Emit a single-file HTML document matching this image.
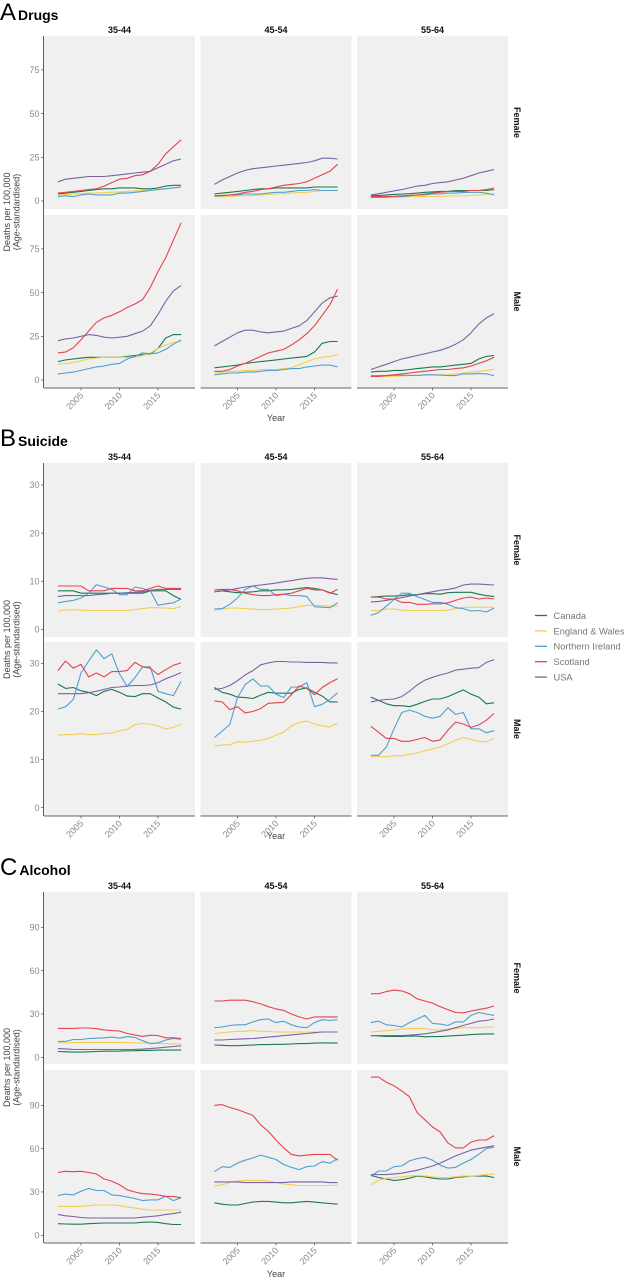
<!DOCTYPE html>
<html><head><meta charset="utf-8">
<style>
html,body{margin:0;padding:0;background:#fff;}
svg{display:block;font-family:"Liberation Sans",sans-serif;}
</style></head>
<body>
<svg id="chart" width="628" height="1280" viewBox="0 0 628 1280" xmlns="http://www.w3.org/2000/svg"></svg>
<script>
const years = [2002,2003,2004,2005,2006,2007,2008,2009,2010,2011,2012,2013,2014,2015,2016,2017,2018];
const countries = ["Canada","England & Wales","Northern Ireland","Scotland","USA"];
const ageGroups = ["35-44","45-54","55-64"];
const sexes = ["Female","Male"];
const xTicks = [2005,2010,2015];
const drugsTicks = [0,25,50,75];
const suicideTicks = [0,10,20,30];
const alcoholTicks = [0,30,60,90];

// Drugs: [sex][age][country]
const drugsFemale = [
 [[4,4.5,5,5.5,6,6.5,7,7,7.5,7.5,7.5,7,7,7.5,8.5,9,9],
  [3.5,3.8,4,4.2,4.5,4.6,4.8,5,5.2,5.5,5.8,6,6.2,6.5,7,7.5,8],
  [2.5,3,2.5,3.5,4,3.5,3.5,3.5,4.5,4.5,5,5.5,6,6.5,7,7.5,8],
  [4.5,5,5.5,6,6.5,7,8.5,10.5,12.5,13,14.5,15,17,21,27,31,35],
  [11,12.5,13,13.5,14,14,14,14.5,15,15.5,16,16.5,17,19,21,23,24]],
 [[4,4.5,5,5.5,6,6.5,7,7,7.5,7.5,7.5,7.5,7.5,8,8,8,8],
  [2.5,2.5,2.7,3,3,3.2,3.5,3.7,4,4.2,4.5,4.8,5,5.5,6,6,6],
  [3,3,3.5,3.5,4,4,4,4.5,5,5,5.5,6,6,6.5,6,6,6],
  [3,3.2,3.5,4,5,5.5,6.5,7,8,9,9.5,10,11,13,15,17,21],
  [9.5,12,14,16,17.5,18.5,19,19.5,20,20.5,21,21.5,22,23,24.5,24.5,24]],
 [[3,3.2,3.5,3.8,4,4.2,4.5,5,5.2,5.5,5.5,6,6,6,6,6,6.5],
  [2,2,2.2,2.2,2.3,2.4,2.5,2.5,2.6,2.7,2.8,3,3,3.2,3.5,3.7,4],
  [2,2,2.2,2.5,2.5,3,3.5,3.5,4,4,4.5,4.5,4.8,5,5,4.5,3.5],
  [2.5,2.5,2.5,2.7,3,3.2,3.5,4,4.5,5,5.5,5.5,5.5,6,6,6.5,7.5],
  [3.5,4.2,5,5.8,6.5,7.5,8.5,9,10,10.5,11,12,13,14.5,16,17,18]]
];
const drugsMale = [
 [[10.5,11.5,12,12.5,13,13,13,13,13,13.5,14,14.5,15,18,24,26,26],
  [9,9.5,10,11,12,12.5,13,13,13,13,13,14,15.5,18,20,21.5,22],
  [3.5,4,4.5,5.5,6.5,7.5,8,9,9.5,12,13.5,15.5,15,15.5,17.5,20.5,23],
  [15.5,16,18.5,23,28,33,35.5,37,39,41.5,43.5,46,53,62,70,80,90],
  [22.5,23.5,24,25,26,25.5,24.5,24,24.5,25,26.5,28,31,37.5,45,51,54]],
 [[7,7.5,8,8.5,9.5,10,10.5,11,11.5,12,12.5,13,13.5,16,21,22,22],
  [4,4.5,5,5,5.5,5.5,6,6,6,6.5,7,8.5,10.5,12,13,13.5,14.5],
  [3,3.5,4,4,4.5,4.5,5,5.5,5.5,6,6.5,6.5,7.5,8,8.5,8.5,7.5],
  [5,5,6,8,9.5,11.5,13.5,15.5,16.5,17.5,20,23,26.5,31,37,43,52],
  [19.5,22,24.5,27,28.5,28.5,27.5,27,27.5,28,29.5,31,34,39,44,47,48]],
 [[4.5,5,5,5.5,5.5,6,6.5,7,7.5,7.5,8,8.5,9,9.5,12,13.5,14],
  [2,2,2,2.2,2.3,2.5,2.7,3,3,3,3,3.5,4,4.5,5,5.5,6],
  [2.5,2.5,2.5,2.7,2.7,2.7,2.5,3,3,2.8,2.5,2.5,3.5,3.5,3.8,3.5,2.5],
  [2,2,2.5,3,3.5,4,4.5,5,5.5,6,6,6.5,7,8,9.5,11,13],
  [6,7.5,9,10.5,12,13,14,15,16,17,18.5,20.5,23,27,32,35.5,38]]
];
const suicideFemale = [
 [[8,8,8,7.5,7.5,7.5,7.5,7.5,7.5,7.5,7.5,7.5,8,8,8,7,6.2],
  [3.8,4,4.1,4,3.9,3.9,3.9,3.9,3.9,3.9,4.1,4.3,4.5,4.5,4.4,4.3,4.7],
  [5.5,5.8,6,6.5,7.5,9.3,8.8,8.3,7.2,7.2,8.8,8.5,8,5,5.3,5.5,6.3],
  [9,9,9,9,8,8,8,8.5,8.5,8.5,8,8,8.5,9,8.5,8.5,8.5],
  [6.8,7,7,7,7,7.2,7.3,7.5,7.5,7.6,7.7,7.8,8.1,8.3,8.3,8.3,8.3]],
 [[7.8,8,7.8,7.6,7.7,7.8,8,8,8.2,8.2,8.3,8.5,8.7,8.5,8.2,7.6,7.2],
  [4,4.2,4.4,4.4,4.3,4.2,4.1,4.1,4.2,4.3,4.4,4.7,5,5,4.9,4.8,4.8],
  [4.2,4.3,5.2,6.5,8.3,9,8.3,8.3,7,7.3,7,7,6.8,4.7,4.6,4.5,5.5],
  [8.2,8.3,8.3,8,7.5,7.2,7,7,7.2,7.3,7.5,8,8.5,8.2,8.2,7.5,8.3],
  [7.8,8,8.2,8.5,8.8,9,9.2,9.4,9.6,9.9,10.1,10.4,10.6,10.7,10.7,10.5,10.4]],
 [[6.7,6.8,6.9,6.9,7,7.2,7.2,7.4,7.4,7.3,7.6,7.7,7.7,7.7,7.3,7,6.8],
  [3.9,3.9,4.2,4.2,4,3.9,3.9,3.9,3.9,3.9,4,4.3,4.5,4.6,4.6,4.6,4.6],
  [2.9,3.5,4.8,6.2,7.5,7.5,6.8,6.2,5.6,5.6,5.2,4.5,4.3,3.8,3.9,3.6,4.4],
  [6.7,6.7,6.3,6.3,5.6,5.6,5.2,5.2,5.3,5.3,5.5,6,6.5,6.7,6.3,6.5,6.3],
  [5.7,5.8,6,6.3,6.6,6.9,7.2,7.5,7.8,8.1,8.3,8.6,9.2,9.4,9.4,9.3,9.2]]
];
const suicideMale = [
 [[25.7,24.8,25,24.3,24,23.3,24.2,24.6,24,23.2,23.1,23.7,23.7,22.8,22,20.9,20.5],
  [15.1,15.2,15.2,15.4,15.2,15.2,15.4,15.5,16,16.3,17.3,17.5,17.4,17,16.4,16.7,17.4],
  [20.5,21,22.5,28,30.5,32.8,31,32,27.8,25.2,27,29.3,29.3,24.2,23.7,23.3,26.3],
  [28.5,30.5,29,29.8,27.2,28,27.2,28.3,28.3,28.5,30.2,29.3,29,27.7,28.7,29.6,30.1],
  [23.7,23.7,23.7,23.7,23.9,24.2,24.6,25,25.1,25.3,25.4,25.4,25.5,26,26.8,27.4,28.1]],
 [[25,24,23.6,23,22.9,22.7,23.4,24,23.8,23.8,23.8,24.6,24.9,24,23.2,22,22],
  [12.8,13,13.1,13.7,13.6,13.8,14,14.4,15.1,15.7,17,17.7,18,17.4,17,16.8,17.6],
  [14.6,15.9,17.3,22.9,25.6,26.8,25.3,25.3,23.6,22.9,25.1,25.1,26,21,21.5,22.5,23.9],
  [22.2,22,20.4,21,19.7,20,20.6,21.7,21.8,21.9,23.5,25.3,24.8,23.5,25,26,26.8],
  [24.6,24.8,25.4,26.4,27.6,28.5,29.7,30.1,30.4,30.4,30.3,30.3,30.2,30.2,30.2,30.1,30.1]],
 [[23,22.3,21.6,21.2,21.2,21,21.5,22.1,22.6,22.6,23.1,23.8,24.5,23.6,23,21.6,21.8],
  [10.6,10.6,10.6,10.8,10.8,11.1,11.4,11.8,12.2,12.6,13.3,14,14.6,14.2,13.8,13.7,14.4],
  [10.9,10.9,12.6,16.4,19.8,20.3,19.8,19,18.6,19,20.8,19.4,19.8,16.4,16.4,15.6,16],
  [16.9,15.7,14.4,14.4,13.8,13.8,14.2,14.6,13.8,14.1,16.1,17.8,17.4,16.7,17.2,18.2,19.6],
  [22,22.3,22.5,22.6,23.1,24.2,25.5,26.5,27.1,27.6,28,28.6,28.8,29,29.1,30.2,30.8]]
];
const alcoholFemale = [
 [[4,3.8,3.6,3.6,3.8,4,4.2,4.2,4.3,4.5,4.6,4.8,4.8,5,5,5,5],
  [10,10,10.2,10.3,10.3,10.3,10.3,10.3,10.3,10.2,10,10,9.8,9.5,9.5,9.3,9.3],
  [11,11,12.3,12.3,13,13.2,13.5,14,13.2,14.3,13.8,11.5,9.5,10,12,13,12.5],
  [20,20,20,20.3,20.3,19.8,19,18.5,18.2,16.5,15.5,14.5,15.3,15,13.5,13.5,13],
  [6,5.8,5.5,5.4,5.4,5.4,5.4,5.4,5.4,5.4,5.5,5.7,6,6.5,7,7.5,8]],
 [[8.5,8.3,8,8,8.3,8.5,8.8,8.8,9,9,9.2,9.5,9.5,9.8,10,10,9.8],
  [16.5,17,17.5,18,18,18.5,18,18,17.5,17.5,17.5,17.5,17.5,17.5,17.5,17.5,17.5],
  [20.5,21,22,22.5,22.5,24.5,26,26.5,24,25,22.5,21,20.5,24,26,25.5,26],
  [39,39,39.5,39.5,39.5,38.5,37,35,33.5,32.5,30,28,26.5,28,28,28,28],
  [12,12,12.3,12.5,12.8,13,13.5,14,14.5,15,15.5,16,16.5,17,17.5,17.5,17.5]],
 [[15,14.8,14.5,14.5,14.5,14.7,14.7,14.2,14.3,14.3,14.7,15,15.3,15.7,16,16.2,16.2],
  [17.5,18,18.5,19,19.5,20,20,20,19,19,19.5,20,20.5,20.5,20.5,21,21],
  [24,25,22.5,22,21,24,26.5,29,23.5,23,22,24.5,24.5,29,31,30,29],
  [44,44,45.5,46.5,46,44,40.5,39,37.5,35,33,31,30.8,32,33,34,35.5],
  [15,15,15,15,15,15.3,15.7,16.3,17,18,19,20.5,22,23.5,25,25.5,26.5]]
];
const alcoholMale = [
 [[8,7.8,7.7,7.7,8,8.3,8.5,8.5,8.5,8.5,8.5,9,9.2,8.9,8,7.5,7.5],
  [20,20,20,20,20.5,21,21,21,20.5,19.5,19,18,17.5,17.5,17.5,17.5,17.5],
  [27.5,28.5,28,30.5,32.5,31,31,28,27.5,26.5,25.5,24,24.5,24.5,27,24,26],
  [43.5,44.3,44,44.3,43.5,42.5,39,37.5,35,31.5,30,28.8,28.5,28,27,26.8,26],
  [14.5,13.5,13,12.3,12,12,12,12,12,12,12,12.5,13,13.5,14.5,15,16]],
 [[22.5,21.5,21,21,22,23,23.5,23.5,23,22.5,22.5,23,23.5,23,22.5,22,21.5],
  [34,35,36.5,37.5,38,38,38,37.5,36.5,35.5,35,34.5,34.5,34.5,34.5,34.5,34.8],
  [44,47.5,47,50,52,53.5,55.5,54,52.5,49,47,45.5,47.5,48,51,50,53],
  [90,90.5,88.5,87,85,83,76.5,72,66,60.5,56,55,55.5,56,56,56,52],
  [37,37,37,37,36.5,36.5,36.5,36.5,36.5,36.5,37,37,37,37,37,36.5,36.5]],
 [[41.5,40,39,38,38.5,39.5,41,40.5,39.5,39,39,40,40.5,41,41,41,40],
  [35,38,39.5,40,40.5,41,41.5,41,40.5,40,40,40.5,41,41,41.5,42,42.5],
  [41,44.5,44.5,47.5,48,51.5,53,54,52,48.5,46.5,47,50,52.5,56,60,61],
  [109.5,109.5,106,103.5,100,96,85,80,75,71.5,64,60.5,60.5,64.5,66,66,69],
  [42,42,42,42.5,43,44,45,46.5,48,50,52.5,55,57,59,60,61,62]]
];

const colors = ["#1a7a4c","#f2cf52","#4f9fcf","#e4434f","#7b62a3"];
const NS = "http://www.w3.org/2000/svg";
const svg = document.getElementById("chart");
function mk(tag, attrs, parent){
  const e = document.createElementNS(NS, tag);
  for (const k in attrs) e.setAttribute(k, attrs[k]);
  (parent||svg).appendChild(e);
  return e;
}
const colX = [44, 200.5, 357];
const colW = 151;
function xScale(col, yr){ return colX[col] + 37 + (yr - 2005) * 7.7; }

const sections = [
 {letter:"A", title:"Drugs", key:"drugs", titleY:20, stripY:33, rows:[[36,209],[215,388]], zero:[201,380], ppu:43.7/25, ticks:drugsTicks, data:[drugsFemale,drugsMale], yearY:421},
 {letter:"B", title:"Suicide", key:"suicide", titleY:446, stripY:460, rows:[[463,637],[642,816]], zero:[629.3,807.7], ppu:48.1/10, ticks:suicideTicks, data:[suicideFemale,suicideMale], yearY:839},
 {letter:"C", title:"Alcohol", key:"alcohol", titleY:875, stripY:889, rows:[[892,1064],[1070,1243]], zero:[1057.3,1235.3], ppu:130/90, ticks:alcoholTicks, data:[alcoholFemale,alcoholMale], yearY:1277}
];

sections.forEach(sec => {
  const g = mk("g", {});
  
  
  const tl = mk("text", {x:0, y:sec.titleY, "font-size":24, fill:"#000"}, g);
  
  
  tl.innerHTML = sec.letter + '<tspan font-size="14" font-weight="bold" dx="2">' + sec.title + '</tspan>';
  ageGroups.forEach((a, c) => {
    const t = mk("text", {x:colX[c] + colW/2, y:sec.stripY, "font-size":9, "font-weight":"bold", "text-anchor":"middle", fill:"#111"}, g);
    
    
    t.textContent = a;
  });
  sexes.forEach((s, r) => {
    const [top, bot] = sec.rows[r];
    const cy = (top + bot) / 2;
    const t = mk("text", {x:514, y:cy, "font-size":9, "font-weight":"bold", "text-anchor":"middle", fill:"#111", transform:"rotate(90 514 " + cy + ")"}, g);
    
    
    t.textContent = s;
    const yS = v => sec.zero[r] - v * sec.ppu;
    ageGroups.forEach((a, c) => {
      const bg = mk("rect", {x:colX[c], y:top, width:colW, height:bot-top, fill:"#f0f0f0"}, g);
      
      
      countries.forEach((cn, k) => {
        const vals = sec.data[r][c][k];
        const pts = vals.map((v, i) => xScale(c, years[i]).toFixed(1) + "," + yS(v).toFixed(1)).join(" ");
        const pl = mk("polyline", {points:pts, fill:"none", stroke:colors[k], "stroke-width":1.1, "stroke-linejoin":"round"}, g);
        
        
      });
    });
    sec.ticks.forEach(tv => {
      const y = yS(tv);
      mk("line", {x1:41, x2:43.5, y1:y, y2:y, stroke:"#333", "stroke-width":0.6}, g);
      const t = mk("text", {x:39.5, y:y+3.2, "font-size":9, "text-anchor":"end", fill:"#8a8a8a"}, g);
      
      
      t.textContent = tv;
    });
  });
  const ya = mk("line", {x1:43.5, x2:43.5, y1:sec.rows[0][0], y2:sec.rows[1][1], stroke:"#333", "stroke-width":0.8}, g);
  
  
  const bot = sec.rows[1][1];
  ageGroups.forEach((a, c) => {
    const xa = mk("line", {x1:colX[c], x2:colX[c]+colW, y1:bot, y2:bot, stroke:"#333", "stroke-width":0.8}, g);
    
    
    xTicks.forEach(yr => {
      const x = xScale(c, yr);
      mk("line", {x1:x, x2:x, y1:bot, y2:bot+2.5, stroke:"#333", "stroke-width":0.6}, g);
      const t = mk("text", {x:x+3, y:bot+8, "font-size":9, "text-anchor":"end", fill:"#8a8a8a", transform:"rotate(-45 " + (x+3) + " " + (bot+8) + ")"}, g);
      
      
      t.textContent = yr;
    });
  });
  const yt = mk("text", {x:colX[1]+colW/2, y:sec.yearY, "font-size":9, "text-anchor":"middle", fill:"#444"}, g);
  
  
  yt.textContent = "Year";
  const cy = (sec.rows[0][0] + sec.rows[1][1]) / 2;
  const ytl = mk("text", {x:0, y:0, "font-size":9, "text-anchor":"middle", fill:"#444", transform:"translate(10 " + cy + ") rotate(-90)"}, g);
  
  
  ytl.innerHTML = '<tspan x="0" dy="0">Deaths per 100,000</tspan><tspan x="0" dy="9.5">(Age-standardised)</tspan>';
});

const lg = mk("g", {});


countries.forEach((cn, k) => {
  const y = 615.5 + k * 15.4;
  const e = mk("g", {}, lg);
  
  
  mk("line", {x1:535, x2:547, y1:y, y2:y, stroke:colors[k], "stroke-width":1.3}, e);
  const t = mk("text", {x:553.5, y:y+3.4, "font-size":9.3, fill:"#777"}, e);
  t.textContent = cn;
});
</script>
</body></html>
